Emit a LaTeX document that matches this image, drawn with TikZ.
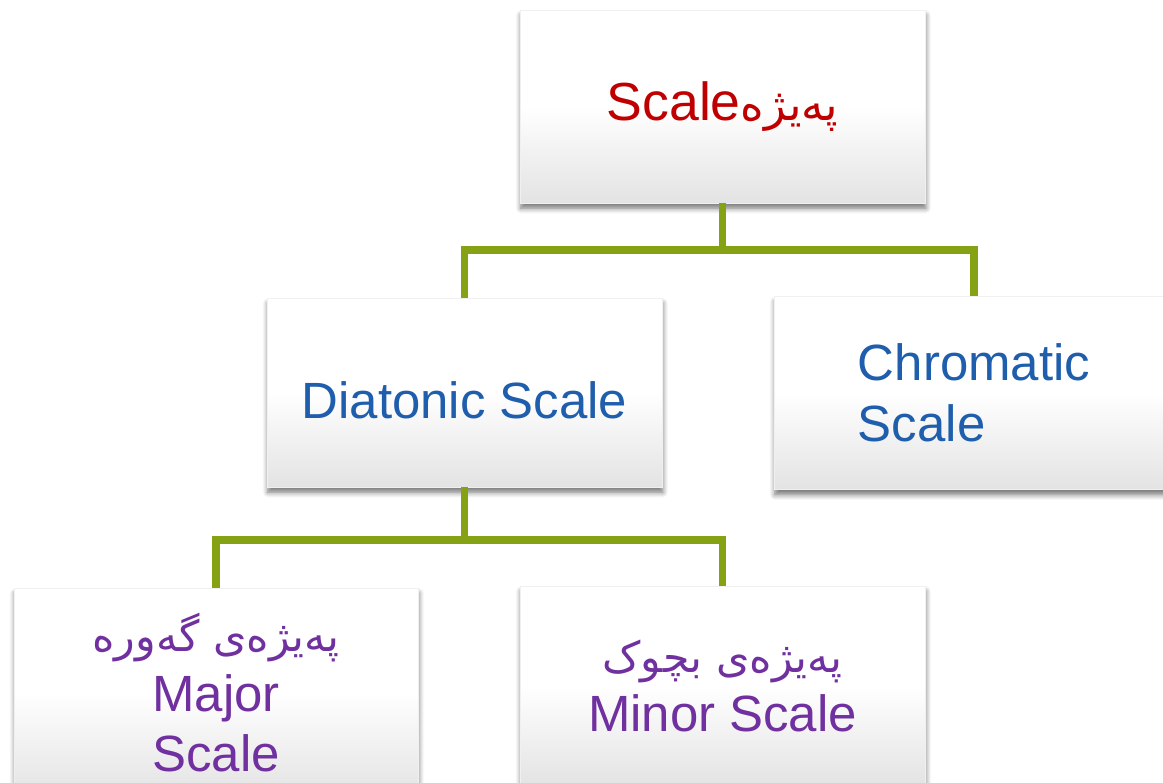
\documentclass[tikz,border=0pt]{standalone}
\usepackage{fontspec}
\setmainfont{Liberation Sans}
\newfontfamily\kurdfont[Script=Arabic,Scale=0.84]{DejaVu Sans}
\TeXXeTstate=1
\usetikzlibrary{shadows.blur}

\definecolor{linkgreen}{RGB}{132,162,20}
\definecolor{titlered}{RGB}{192,0,0}
\definecolor{textblue}{RGB}{30,94,172}
\definecolor{textpurple}{RGB}{112,48,160}

\tikzset{
box/.style={draw=gray!12, top color=white, bottom color=gray!22,
  middle color=white, inner sep=0pt,
  blur shadow={shadow xshift=0.5pt, shadow yshift=-3pt,
  shadow blur radius=3pt, shadow blur steps=6, shadow opacity=55}},
link/.style={draw=linkgreen, line width=4.5pt}
}

\begin{document}
\begin{tikzpicture}[x=0.02cm, y=-0.02cm]
\useasboundingbox (0,0) rectangle (1163,783);

\node[box, minimum width=8.1cm, minimum height=3.86cm, text=titlered,
font=\fontsize{30.5}{36}\selectfont] (scale) at (722.5,106.5)
{Scale{\kurdfont\beginR پەیژە\endR}};

\node[box, minimum width=7.9cm, minimum height=3.78cm, text=textblue,
font=\fontsize{29}{35}\selectfont] (diatonic) at (464.5,392.5)
{\raisebox{-4.5pt}[\height][\depth]{Diatonic Scale}};

\node[box, minimum width=8cm, minimum height=3.86cm, text=textblue,
align=left, font=\fontsize{29}{35}\selectfont] (chromatic) at (974,393)
{Chromatic\\Scale};

\node[box, minimum width=8.08cm, minimum height=4.18cm, text=textpurple,
align=center, font=\fontsize{29}{34}\selectfont] (major) at (216,692.5)
{{\kurdfont\beginR پەیژەی گەورە\endR}\\Major\\Scale};

\node[box, minimum width=8.1cm, minimum height=4cm, text=textpurple,
align=center, font=\fontsize{29}{34}\selectfont] (minor) at (722.5,686)
{{\kurdfont\beginR پەیژەی بچوک\endR}\\Minor Scale};

\coordinate (j1) at (722.5,250);
\coordinate (j2) at (464.5,540);

\draw[link] (scale.south) -- (j1);
\draw[link] (j1) -| (diatonic.north);
\draw[link] (j1) -| (chromatic.north);

\draw[link] (diatonic.south) -- (j2);
\draw[link] (j2) -| (major.north);
\draw[link] (j2) -| (minor.north);

\end{tikzpicture}
\end{document}
